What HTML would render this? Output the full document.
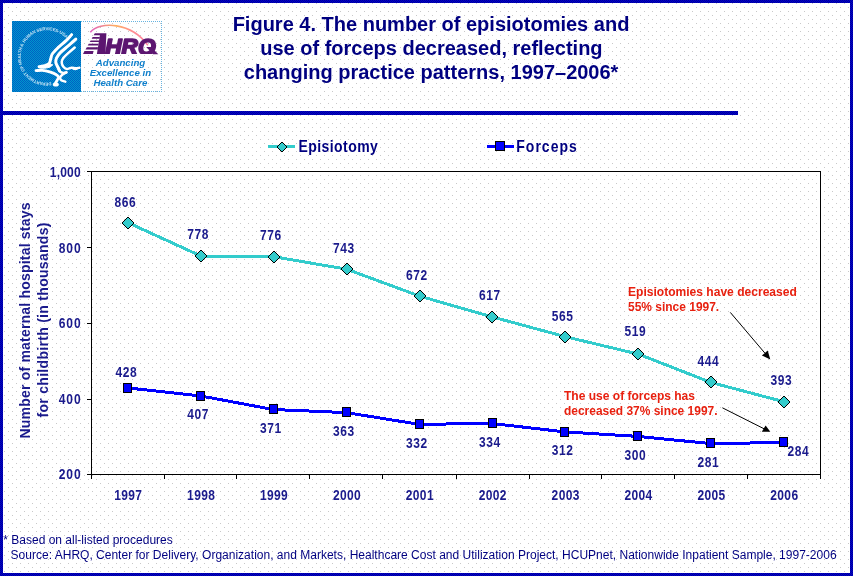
<!DOCTYPE html>
<html><head><meta charset="utf-8"><title>Figure 4</title>
<style>html,body{margin:0;padding:0;background:#fff;}svg{display:block;will-change:transform;}text{font-family:"Liberation Sans",sans-serif;}</style></head><body>
<svg width="853" height="576" viewBox="0 0 853 576" shape-rendering="crispEdges">
<defs>
<pattern id="dots" x="0" y="0" width="8" height="8" patternUnits="userSpaceOnUse"><rect x="4" y="3" width="1" height="1" fill="#c8c8c8"/><rect x="0" y="7" width="1" height="1" fill="#c8c8c8"/></pattern>
<pattern id="bl" x="0" y="0" width="2" height="2" patternUnits="userSpaceOnUse"><rect width="2" height="2" fill="#0000cc"/><rect x="0" y="0" width="1" height="1" fill="#000099"/><rect x="1" y="1" width="1" height="1" fill="#000099"/></pattern>
<pattern id="lb" x="0" y="0" width="2" height="2" patternUnits="userSpaceOnUse"><rect width="2" height="2" fill="#0096cc"/><rect x="0" y="0" width="1" height="1" fill="#0060c4"/><rect x="1" y="1" width="1" height="1" fill="#0060c4"/></pattern>
<linearGradient id="arc" x1="0" y1="0" x2="1" y2="0"><stop offset="0" stop-color="#e060c0"/><stop offset="0.45" stop-color="#ffb060"/><stop offset="0.7" stop-color="#ff9090"/><stop offset="1" stop-color="#ff80a0"/></linearGradient>
<symbol id="d12" overflow="visible"><path d="M5 1h2v1h-2z M4 2h4v1h-4z M3 3h6v1h-6z M2 4h8v1h-8z M1 5h10v1h-10z M1 6h10v1h-10z M2 7h8v1h-8z M3 8h6v1h-6z M4 9h4v1h-4z M5 10h2v1h-2z" fill="#33cccc"/><path d="M5 0h2v1h-2z M4 1h1v1h-1z M7 1h1v1h-1z M3 2h1v1h-1z M8 2h1v1h-1z M2 3h1v1h-1z M9 3h1v1h-1z M1 4h1v1h-1z M10 4h1v1h-1z M0 5h1v1h-1z M11 5h1v1h-1z M0 6h1v1h-1z M11 6h1v1h-1z M1 7h1v1h-1z M10 7h1v1h-1z M2 8h1v1h-1z M9 8h1v1h-1z M3 9h1v1h-1z M8 9h1v1h-1z M4 10h1v1h-1z M7 10h1v1h-1z M5 11h2v1h-2z" fill="#000"/></symbol>
<symbol id="d10" overflow="visible"><path d="M4 1h2v1h-2z M3 2h4v1h-4z M2 3h6v1h-6z M1 4h8v1h-8z M1 5h8v1h-8z M2 6h6v1h-6z M3 7h4v1h-4z M4 8h2v1h-2z" fill="#33cccc"/><path d="M4 0h2v1h-2z M3 1h1v1h-1z M6 1h1v1h-1z M2 2h1v1h-1z M7 2h1v1h-1z M1 3h1v1h-1z M8 3h1v1h-1z M0 4h1v1h-1z M9 4h1v1h-1z M0 5h1v1h-1z M9 5h1v1h-1z M1 6h1v1h-1z M8 6h1v1h-1z M2 7h1v1h-1z M7 7h1v1h-1z M3 8h1v1h-1z M6 8h1v1h-1z M4 9h2v1h-2z" fill="#000"/></symbol>
</defs>
<rect width="853" height="576" fill="#fff"/>
<rect width="853" height="576" fill="url(#dots)"/>
<rect x="0" y="0" width="853" height="3" fill="url(#bl)"/>
<rect x="0" y="573" width="853" height="3" fill="url(#bl)"/>
<rect x="0" y="0" width="3" height="576" fill="url(#bl)"/>
<rect x="850" y="0" width="3" height="576" fill="url(#bl)"/>
<rect x="3" y="111" width="735" height="4" fill="url(#bl)"/>
<g shape-rendering="auto">
<rect x="12" y="21" width="69" height="71" fill="url(#lb)" shape-rendering="crispEdges"/>
<path d="M81 21.5H162 M161.5 21V92 M81 91.5H162" fill="none" stroke="#66b3e0" stroke-width="1" stroke-dasharray="1 1" shape-rendering="crispEdges"/>
<path id="seal" d="M51.20 82.28 A26.2 26.2 0 0 1 22.48 47.44 A26.2 26.2 0 0 1 66.57 38.87" fill="none"/>
<text font-size="4.3" font-weight="bold" fill="#c5e4f5"><textPath href="#seal" textLength="107.4" lengthAdjust="spacing">DEPARTMENT OF HEALTH &amp; HUMAN SERVICES·USA</textPath></text>
<path d="M71.6 34.7 C70.7 35.6 68.6 38.2 66.4 40.4 C64.1 42.6 60.4 45.5 58.0 47.7 C55.7 50.0 53.5 52.1 52.3 54.0 C51.1 55.8 51.3 57.0 50.8 58.6 C50.2 60.2 50.1 62.4 49.2 63.5 C48.2 64.7 46.7 65.1 45.0 65.6 C43.3 66.1 40.1 66.5 39.1 66.7" stroke="#fff" fill="none" stroke-linecap="round" stroke-linejoin="round" stroke-width="3"/>
<path d="M75.8 39.2 C74.5 40.2 71.1 43.3 68.5 45.6 C65.9 47.9 62.1 50.8 60.1 52.9 C58.1 55.0 57.2 56.6 56.5 58.1 C55.8 59.7 55.6 60.9 55.8 62.3 C55.9 63.7 56.9 65.0 57.5 66.5 C58.2 67.9 59.3 70.1 59.6 70.8" stroke="#fff" fill="none" stroke-linecap="round" stroke-linejoin="round" stroke-width="3"/>
<path d="M74.7 47.5 C73.8 48.3 70.9 50.6 69.0 52.4 C67.1 54.2 64.5 56.5 63.2 58.1 C62.0 59.8 61.7 60.9 61.7 62.3 C61.7 63.7 62.4 65.3 63.2 66.5 C64.1 67.6 65.2 68.8 66.6 69.0 C68.0 69.2 70.1 67.8 71.6 67.7 C73.1 67.6 74.4 68.3 75.8 68.3 C77.1 68.3 78.8 67.8 79.4 67.7" stroke="#fff" fill="none" stroke-linecap="round" stroke-linejoin="round" stroke-width="2.5"/>
<path d="M36.0 70.6 C37.0 70.6 40.1 70.1 42.4 70.3 C44.7 70.5 47.5 71.2 49.7 71.9 C52.0 72.6 54.5 73.6 56.0 74.5 C57.4 75.3 58.4 76.1 58.6 77.1 C58.7 78.1 57.6 79.4 57.0 80.5 C56.4 81.6 55.4 83.1 55.1 83.6" stroke="#fff" fill="none" stroke-linecap="round" stroke-linejoin="round" stroke-width="2.8"/>
<path d="M66.4 72.5 C65.7 72.9 63.2 73.9 62.2 74.8 C61.2 75.7 60.2 77.0 60.1 77.9 C60.0 78.9 60.8 79.9 61.7 80.5 C62.6 81.1 64.7 81.4 65.3 81.6" stroke="#fff" fill="none" stroke-linecap="round" stroke-linejoin="round" stroke-width="2.5"/>
<path d="M58.0 67.5 C58.4 68.2 59.3 70.8 60.1 71.7 C61.0 72.6 62.2 72.8 63.2 72.9 C64.3 73.0 65.9 72.4 66.4 72.3" stroke="#fff" fill="none" stroke-linecap="round" stroke-linejoin="round" stroke-width="2.5"/>
<path d="M40.3 66.7 L45.5 65.2 L50.2 63.9 L52.8 64.9 L49.7 67.3 L44.5 68.3 L39.8 68.1Z" fill="#fff" stroke="#fff" stroke-width="1" stroke-linejoin="round"/>
<ellipse cx="55.8" cy="84.4" rx="3" ry="2" fill="#fff"/>
<ellipse cx="75.2" cy="68.8" rx="3" ry="1.4" fill="#fff"/>
<path d="M90.3 32.3 C99.7 21.0 131.2 22.0 147.9 45.4" fill="none" stroke="url(#arc)" stroke-width="1.6"/>
<path d="M100.2 33.3 L106.4 33.3 L105.4 54.0 L96.9 54.0Z" fill="#5c1670"/>
<path d="M94.8 33.3 L100.4 33.3 L100.1 35.2 L93.6 35.2Z" fill="#5c1670"/>
<path d="M92.6 37.0 L99.8 37.0 L99.5 38.7 L91.7 38.7Z" fill="#5c1670"/>
<path d="M90.7 40.4 L99.2 40.4 L98.9 42.1 L89.7 42.1Z" fill="#5c1670"/>
<path d="M88.8 43.8 L98.6 43.8 L98.3 45.6 L87.7 45.6Z" fill="#5c1670"/>
<path d="M86.8 47.3 L98.1 47.3 L97.7 49.5 L85.5 49.5Z" fill="#5c1670"/>
<path d="M84.6 51.0 L93.6 51.0 L92.8 54.0 L83.0 54.0Z" fill="#5c1670"/>
<clipPath id="hrqc"><rect x="100" y="30" width="62" height="24.1"/></clipPath>
<g clip-path="url(#hrqc)"><text x="105.2" y="54.0" font-size="22" font-weight="bold" font-style="italic" fill="#5c1670" stroke="#5c1670" stroke-width="1.7" stroke-linejoin="round" textLength="50.5" lengthAdjust="spacingAndGlyphs">HRQ</text></g>
<path d="M146.2 47.1 L151.1 47.1 L158.3 54.2 L153.1 54.2Z" fill="#5c1670"/>
<g font-size="9.7" font-weight="bold" font-style="italic" fill="#0f7fcb" text-anchor="middle">
<text x="120.5" y="66.4">Advancing</text>
<text x="120.4" y="76.2">Excellence in</text>
<text x="120.4" y="85.7">Health Care</text>
</g>
</g>
<g font-weight="bold" font-size="20" fill="#000080" text-anchor="middle" shape-rendering="auto">
<text x="431" y="31">Figure 4. The number of episiotomies and</text>
<text x="431.4" y="55">use of forceps decreased, reflecting</text>
<text x="431.1" y="79">changing practice patterns, 1997–2006*</text>
</g>
<rect x="268" y="145" width="27" height="3" fill="#33cccc"/>
<use href="#d10" x="277" y="141.5"/>
<text transform="translate(298.5,152) scale(1,1.14)" font-weight="bold" font-size="14" fill="#000080" textLength="79.3" lengthAdjust="spacing" shape-rendering="auto">Episiotomy</text>
<rect x="487" y="145" width="27" height="3" fill="#0000ff"/>
<rect x="495.5" y="141.5" width="9" height="9" fill="#0000ff" stroke="#000" stroke-width="1"/>
<text transform="translate(516.3,152) scale(1,1.14)" font-weight="bold" font-size="14" fill="#000080" textLength="60.5" lengthAdjust="spacing" shape-rendering="auto">Forceps</text>
<rect x="91" y="171" width="730" height="1" fill="#000"/>
<rect x="91" y="474" width="730" height="1" fill="#000"/>
<rect x="91" y="171" width="1" height="304" fill="#000"/>
<rect x="820" y="171" width="1" height="308" fill="#000"/>
<rect x="87" y="171" width="4" height="1" fill="#000"/>
<text transform="translate(49.8,176.5) scale(1,1.17)" font-weight="bold" font-size="12" fill="#1a1a8c" textLength="30.8" lengthAdjust="spacing" shape-rendering="auto">1,000</text>
<rect x="87" y="247" width="4" height="1" fill="#000"/>
<text transform="translate(58.8,252.6) scale(1,1.17)" font-weight="bold" font-size="12" fill="#1a1a8c" textLength="21.8" lengthAdjust="spacing" shape-rendering="auto">800</text>
<rect x="87" y="323" width="4" height="1" fill="#000"/>
<text transform="translate(58.8,327.7) scale(1,1.17)" font-weight="bold" font-size="12" fill="#1a1a8c" textLength="21.8" lengthAdjust="spacing" shape-rendering="auto">600</text>
<rect x="87" y="399" width="4" height="1" fill="#000"/>
<text transform="translate(58.8,403.9) scale(1,1.17)" font-weight="bold" font-size="12" fill="#1a1a8c" textLength="21.8" lengthAdjust="spacing" shape-rendering="auto">400</text>
<rect x="87" y="474" width="4" height="1" fill="#000"/>
<text transform="translate(58.8,478.7) scale(1,1.17)" font-weight="bold" font-size="12" fill="#1a1a8c" textLength="21.8" lengthAdjust="spacing" shape-rendering="auto">200</text>
<rect x="91" y="474" width="1" height="5" fill="#000"/>
<text transform="translate(114.2,500) scale(1,1.17)" font-weight="bold" font-size="12" fill="#1a1a8c" textLength="27.8" lengthAdjust="spacing" shape-rendering="auto">1997</text>
<rect x="164" y="474" width="1" height="5" fill="#000"/>
<text transform="translate(187.1,500) scale(1,1.17)" font-weight="bold" font-size="12" fill="#1a1a8c" textLength="27.8" lengthAdjust="spacing" shape-rendering="auto">1998</text>
<rect x="236" y="474" width="1" height="5" fill="#000"/>
<text transform="translate(260.0,500) scale(1,1.17)" font-weight="bold" font-size="12" fill="#1a1a8c" textLength="27.8" lengthAdjust="spacing" shape-rendering="auto">1999</text>
<rect x="309" y="474" width="1" height="5" fill="#000"/>
<text transform="translate(332.9,500) scale(1,1.17)" font-weight="bold" font-size="12" fill="#1a1a8c" textLength="27.8" lengthAdjust="spacing" shape-rendering="auto">2000</text>
<rect x="382" y="474" width="1" height="5" fill="#000"/>
<text transform="translate(405.8,500) scale(1,1.17)" font-weight="bold" font-size="12" fill="#1a1a8c" textLength="27.8" lengthAdjust="spacing" shape-rendering="auto">2001</text>
<rect x="456" y="474" width="1" height="5" fill="#000"/>
<text transform="translate(478.7,500) scale(1,1.17)" font-weight="bold" font-size="12" fill="#1a1a8c" textLength="27.8" lengthAdjust="spacing" shape-rendering="auto">2002</text>
<rect x="529" y="474" width="1" height="5" fill="#000"/>
<text transform="translate(551.6,500) scale(1,1.17)" font-weight="bold" font-size="12" fill="#1a1a8c" textLength="27.8" lengthAdjust="spacing" shape-rendering="auto">2003</text>
<rect x="601" y="474" width="1" height="5" fill="#000"/>
<text transform="translate(624.5,500) scale(1,1.17)" font-weight="bold" font-size="12" fill="#1a1a8c" textLength="27.8" lengthAdjust="spacing" shape-rendering="auto">2004</text>
<rect x="674" y="474" width="1" height="5" fill="#000"/>
<text transform="translate(697.4,500) scale(1,1.17)" font-weight="bold" font-size="12" fill="#1a1a8c" textLength="27.8" lengthAdjust="spacing" shape-rendering="auto">2005</text>
<rect x="747" y="474" width="1" height="5" fill="#000"/>
<text transform="translate(770.3,500) scale(1,1.17)" font-weight="bold" font-size="12" fill="#1a1a8c" textLength="27.8" lengthAdjust="spacing" shape-rendering="auto">2006</text>
<g font-weight="bold" font-size="14" fill="#1a1a8c" text-anchor="middle" shape-rendering="auto">
<text transform="translate(30,320.5) rotate(-90)" textLength="236" lengthAdjust="spacing">Number of maternal hospital stays</text>
<text transform="translate(48,320) rotate(-90)" textLength="195" lengthAdjust="spacing">for childbirth (in thousands)</text>
</g>
<polyline points="128.0,222.7 200.9,256.0 273.8,256.7 346.7,269.2 419.6,296.1 492.5,317.0 565.4,336.7 638.2,354.1 711.2,382.5 784.1,401.8" fill="none" stroke="#33cccc" stroke-width="3" stroke-linejoin="round" shape-rendering="crispEdges"/>
<polyline points="127.5,387.9 200.4,395.9 273.2,409.5 346.2,412.6 419.1,424.3 492.0,423.5 564.9,431.9 637.8,436.4 710.7,443.6 783.6,442.5" fill="none" stroke="#0000ff" stroke-width="3" stroke-linejoin="round" shape-rendering="crispEdges"/>
<use href="#d12" x="122" y="217"/>
<use href="#d12" x="195" y="250"/>
<use href="#d12" x="268" y="251"/>
<use href="#d12" x="341" y="263"/>
<use href="#d12" x="414" y="290"/>
<use href="#d12" x="486" y="311"/>
<use href="#d12" x="559" y="331"/>
<use href="#d12" x="632" y="348"/>
<use href="#d12" x="705" y="376"/>
<use href="#d12" x="778" y="396"/>
<rect x="123" y="383" width="9" height="10" fill="#000"/><rect x="124" y="384" width="7" height="8" fill="#0000ff"/>
<rect x="196" y="391" width="9" height="10" fill="#000"/><rect x="197" y="392" width="7" height="8" fill="#0000ff"/>
<rect x="269" y="404" width="9" height="10" fill="#000"/><rect x="270" y="405" width="7" height="8" fill="#0000ff"/>
<rect x="342" y="407" width="9" height="10" fill="#000"/><rect x="343" y="408" width="7" height="8" fill="#0000ff"/>
<rect x="415" y="419" width="9" height="10" fill="#000"/><rect x="416" y="420" width="7" height="8" fill="#0000ff"/>
<rect x="488" y="418" width="9" height="10" fill="#000"/><rect x="489" y="419" width="7" height="8" fill="#0000ff"/>
<rect x="560" y="427" width="9" height="10" fill="#000"/><rect x="561" y="428" width="7" height="8" fill="#0000ff"/>
<rect x="633" y="431" width="9" height="10" fill="#000"/><rect x="634" y="432" width="7" height="8" fill="#0000ff"/>
<rect x="706" y="438" width="9" height="10" fill="#000"/><rect x="707" y="439" width="7" height="8" fill="#0000ff"/>
<rect x="779" y="437" width="9" height="10" fill="#000"/><rect x="780" y="438" width="7" height="8" fill="#0000ff"/>
<g font-weight="bold" font-size="12" fill="#1a1a8c" shape-rendering="auto">
<text transform="translate(114.4,206.7) scale(1,1.17)" textLength="21.2" lengthAdjust="spacing">866</text>
<text transform="translate(187.3,238.9) scale(1,1.17)" textLength="21.2" lengthAdjust="spacing">778</text>
<text transform="translate(260.1,239.6) scale(1,1.17)" textLength="21.2" lengthAdjust="spacing">776</text>
<text transform="translate(333.1,252.7) scale(1,1.17)" textLength="21.2" lengthAdjust="spacing">743</text>
<text transform="translate(405.9,279.8) scale(1,1.17)" textLength="21.2" lengthAdjust="spacing">672</text>
<text transform="translate(478.9,300.0) scale(1,1.17)" textLength="21.2" lengthAdjust="spacing">617</text>
<text transform="translate(551.8,320.6) scale(1,1.17)" textLength="21.2" lengthAdjust="spacing">565</text>
<text transform="translate(624.6,336.4) scale(1,1.17)" textLength="21.2" lengthAdjust="spacing">519</text>
<text transform="translate(697.6,365.5) scale(1,1.17)" textLength="21.2" lengthAdjust="spacing">444</text>
<text transform="translate(770.5,385.2) scale(1,1.17)" textLength="21.2" lengthAdjust="spacing">393</text>
<text transform="translate(115.4,377.2) scale(1,1.17)" textLength="21.2" lengthAdjust="spacing">428</text>
<text transform="translate(187.3,419.1) scale(1,1.17)" textLength="21.2" lengthAdjust="spacing">407</text>
<text transform="translate(260.1,432.7) scale(1,1.17)" textLength="21.2" lengthAdjust="spacing">371</text>
<text transform="translate(333.1,435.8) scale(1,1.17)" textLength="21.2" lengthAdjust="spacing">363</text>
<text transform="translate(405.9,447.5) scale(1,1.17)" textLength="21.2" lengthAdjust="spacing">332</text>
<text transform="translate(478.9,446.7) scale(1,1.17)" textLength="21.2" lengthAdjust="spacing">334</text>
<text transform="translate(551.8,455.1) scale(1,1.17)" textLength="21.2" lengthAdjust="spacing">312</text>
<text transform="translate(624.6,459.6) scale(1,1.17)" textLength="21.2" lengthAdjust="spacing">300</text>
<text transform="translate(697.6,466.8) scale(1,1.17)" textLength="21.2" lengthAdjust="spacing">281</text>
<text transform="translate(787.4,455.7) scale(1,1.17)" textLength="21.2" lengthAdjust="spacing">284</text>
</g>
<g font-weight="bold" font-size="12" fill="#e8200f" shape-rendering="auto">
<text x="628" y="296" textLength="168.8" lengthAdjust="spacingAndGlyphs">Episiotomies have decreased</text>
<text x="628" y="311" textLength="91.2" lengthAdjust="spacingAndGlyphs">55% since 1997.</text>
<text x="564" y="399.6" textLength="131" lengthAdjust="spacingAndGlyphs">The use of forceps has</text>
<text x="564" y="415" textLength="153.5" lengthAdjust="spacingAndGlyphs">decreased 37% since 1997.</text>
</g>
<line x1="730.3" y1="312.4" x2="764.8" y2="353.0" stroke="#000" stroke-width="1" shape-rendering="auto"/><path d="M770.3 359.5 L761.9 355.5 L767.7 350.6 Z" fill="#000" shape-rendering="auto"/>
<line x1="722.4" y1="407.8" x2="764.5" y2="429" stroke="#000" stroke-width="1" shape-rendering="auto"/>
<path d="M761.8 431.8 L770.3 431.8 L765.6 425.6 Z" fill="#000" shape-rendering="auto"/>
<g font-size="12" fill="#000080" shape-rendering="auto">
<text x="3.3" y="544">* Based on all-listed procedures</text>
<text x="10.6" y="558.5" textLength="826" lengthAdjust="spacingAndGlyphs">Source: AHRQ, Center for Delivery, Organization, and Markets, Healthcare Cost and Utilization Project, HCUPnet, Nationwide Inpatient Sample, 1997-2006</text>
</g>
</svg></body></html>
